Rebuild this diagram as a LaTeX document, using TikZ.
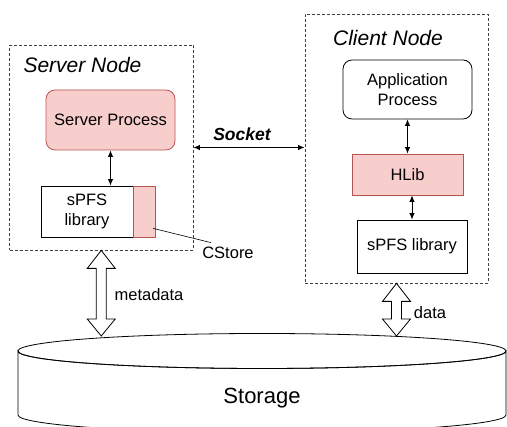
\documentclass[tikz,border=0pt]{standalone}
\usepackage{fontspec}
\setmainfont{Liberation Sans}
\usepackage{tikz}
\usetikzlibrary{calc,arrows.meta}
\definecolor{pinkfill}{HTML}{F8CECC}
\definecolor{pinkline}{HTML}{B85450}

\begin{document}
\begin{tikzpicture}[
    x=1pt, y=1pt,
    font=\fontsize{16.5}{19.5}\selectfont,
    >={Latex[length=6.5pt,width=5.5pt]},
    frame_box/.style={draw=black!75, line width=0.8pt, dash pattern=on 3pt off 2pt,
                      rectangle, inner sep=0pt},
    proc_box/.style={draw, rounded corners=9pt, line width=0.8pt, align=center},
    lib_box/.style={draw, rectangle, line width=0.8pt, align=center, inner sep=0pt},
    pink/.style={fill=pinkfill, draw=pinkline},
    title/.style={font=\fontsize{21}{24}\selectfont\itshape, inner sep=0pt},
    link/.style={line width=0.9pt, <->},
    block_arrow/.style={draw, line width=0.8pt, fill=white}
]

\clip (0,0) rectangle (507,427);

% Storage
\draw[line width=0.8pt] (18,76) arc[start angle=180, end angle=360, x radius=244, y radius=17.5]
    -- (506,12) arc[start angle=0, end angle=-180, x radius=244, y radius=17.5] -- cycle;
\draw[line width=0.8pt] (262,76) ellipse[x radius=244, y radius=17.5];
\node[font=\fontsize{22}{25}\selectfont] (storage) at (262,29) {Storage};
\coordinate (disk_top) at (262,91);

% Server node
\node[frame_box, minimum width=183.5, minimum height=205] (srv) at (101.25,279.5) {};
\node[title] (srv_title) at (82.5,362) {Server Node};
\node[proc_box, pink, minimum width=129, minimum height=60] (sproc) at (110.5,307) {Server Process};
\node[lib_box, minimum width=92, minimum height=51] (slib) at (87,215.5) {sPFS\\library};
\node[lib_box, pink, minimum width=22, minimum height=51, anchor=west] (cstore) at (slib.east) {};
\node (cstore_lbl) at (228,174) {CStore};
\draw[line width=0.6pt] ($(cstore.south east)+(-3,9)$) -- ($(cstore_lbl.north)+(-17,1)$);
\draw[link] (sproc.south) -- (sproc.south |- slib.north);

% Client node
\node[frame_box, minimum width=183, minimum height=269] (cli) at (396.5,278.5) {};
\node[title] (cli_title) at (388,389) {Client Node};
\node[proc_box, minimum width=129, minimum height=59] (app) at (407.5,337.5) {Application\\Process};
\node[lib_box, pink, minimum width=111, minimum height=41] (hlib) at (407.5,252.5) {HLib};
\node[lib_box, minimum width=110, minimum height=53] (clib) at (412,180.5) {sPFS library};
\draw[link] (app.south) -- (hlib.north);
\draw[link] (clib.north) -- (clib.north |- hlib.south);

% Socket
\draw[link] (srv.east) -- (srv.east -| cli.west);
\node[font=\fontsize{17.5}{20}\selectfont\bfseries\itshape] (sock_lbl) at (242,293) {Socket};

% metadata and data arrows
\draw[block_arrow] let \p1=(srv.south), \p2=(srv.south |- disk_top) in
    (\x1,\y1) -- (\x1+14pt,\y1-18pt) -- (\x1+5pt,\y1-18pt) -- (\x1+5pt,\y2+17pt)
    -- (\x1+14pt,\y2+17pt) -- (\x2,\y2) -- (\x1-14pt,\y2+17pt) -- (\x1-5pt,\y2+17pt)
    -- (\x1-5pt,\y1-18pt) -- (\x1-14pt,\y1-18pt) -- cycle;
\node (md_lbl) at (149,132) {metadata};

\draw[block_arrow] let \p1=(cli.south), \p2=(cli.south |- disk_top) in
    (\x1,\y1) -- (\x1+14pt,\y1-18pt) -- (\x1+5pt,\y1-18pt) -- (\x1+5pt,\y2+17pt)
    -- (\x1+14pt,\y2+17pt) -- (\x2,\y2) -- (\x1-14pt,\y2+17pt) -- (\x1-5pt,\y2+17pt)
    -- (\x1-5pt,\y1-18pt) -- (\x1-14pt,\y1-18pt) -- cycle;
\node (data_lbl) at (430,114) {data};

\end{tikzpicture}
\end{document}
